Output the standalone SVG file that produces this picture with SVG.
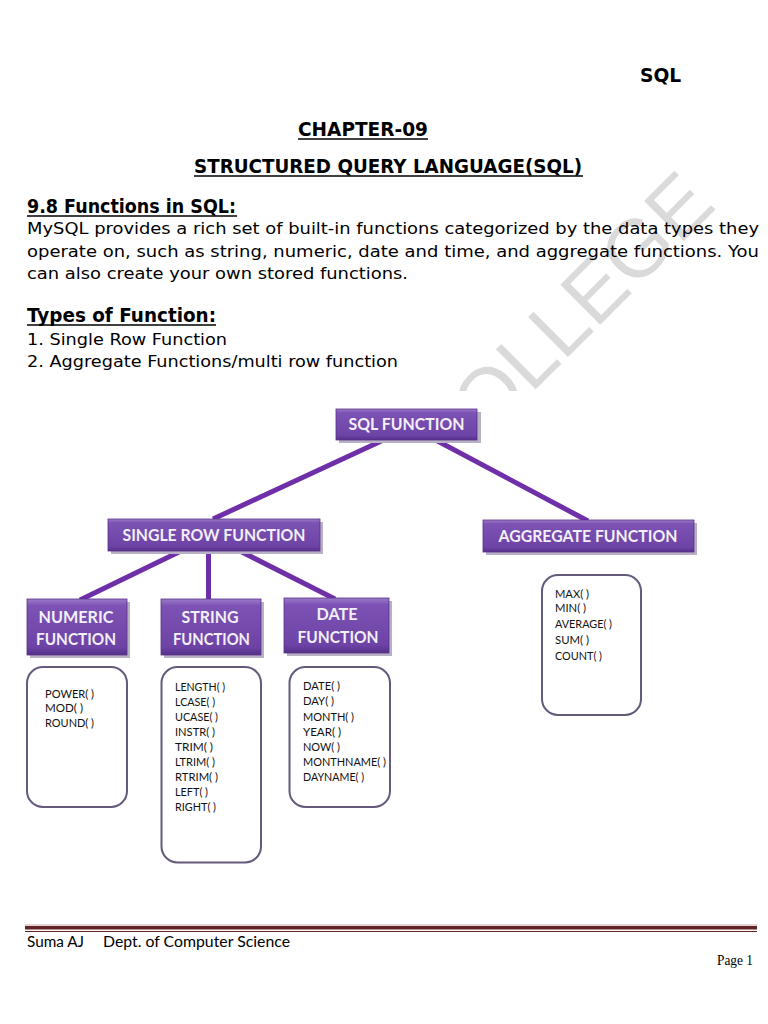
<svg xmlns="http://www.w3.org/2000/svg" width="768" height="1024" viewBox="0 0 768 1024">
<style>
.h{font-family:"DejaVu Sans",Verdana,sans-serif;font-weight:bold;font-size:18.67px;fill:#000}
.b{font-family:"DejaVu Sans",Verdana,sans-serif;font-size:16px;fill:#000}
.ul{stroke:#000;stroke-width:1.5}
.bx{fill:url(#pg);stroke:#5a3088;stroke-width:0.8}
.sh{fill:#b8b0c4}
.lbl{font-family:Lato,"Open Sans",sans-serif;font-weight:bold;font-size:17px;fill:#f2eff7;text-anchor:middle}
.it{fill:#fff;stroke:#655a7c;stroke-width:2}
.t{font-family:Lato,"Open Sans",sans-serif;font-size:11.8px;fill:#111}
.cn{stroke:#6e2fa8;stroke-width:5;stroke-linecap:butt;fill:none}
.ft{font-family:Lato,"Open Sans",sans-serif;font-size:14.5px;fill:#000}
</style>
<defs>
<linearGradient id="pg" x1="0" y1="0" x2="0" y2="1">
<stop offset="0" stop-color="#9a7cc8"/>
<stop offset="0.12" stop-color="#7c52b4"/>
<stop offset="0.85" stop-color="#6e43a6"/>
<stop offset="1" stop-color="#55308a"/>
</linearGradient>
<clipPath id="wm"><rect x="0" y="0" width="768" height="391"/></clipPath>
</defs>
<rect width="768" height="1024" fill="#fff"/>
<g id="watermark" clip-path="url(#wm)">
<text x="0" y="0" transform="translate(486,439) rotate(-45)" font-family="Liberation Sans,Arial,sans-serif" font-size="82" fill="#dadada">OLLEGE</text>
</g>
<g id="header">
<text class="h" x="640" y="82">SQL</text>
<text class="h" x="298" y="136" textLength="130" lengthAdjust="spacingAndGlyphs">CHAPTER-09</text>
<line class="ul" x1="298" y1="139" x2="428" y2="139"/>
<text class="h" x="194" y="173" textLength="388" lengthAdjust="spacingAndGlyphs">STRUCTURED QUERY LANGUAGE(SQL)</text>
<line class="ul" x1="194" y1="176" x2="583" y2="176"/>
<text class="h" x="27" y="213" textLength="209" lengthAdjust="spacingAndGlyphs">9.8 Functions in SQL:</text>
<line class="ul" x1="27" y1="216" x2="237" y2="216"/>
<text class="b" x="27" y="234" textLength="732" lengthAdjust="spacingAndGlyphs">MySQL provides a rich set of built-in functions categorized by the data types they</text>
<text class="b" x="27" y="257" textLength="732" lengthAdjust="spacingAndGlyphs">operate on, such as string, numeric, date and time, and aggregate functions. You</text>
<text class="b" x="27" y="279" textLength="381" lengthAdjust="spacingAndGlyphs">can also create your own stored functions.</text>
<text class="h" x="27" y="322" textLength="189" lengthAdjust="spacingAndGlyphs">Types of Function:</text>
<line class="ul" x1="27" y1="325" x2="216" y2="325"/>
<text class="b" x="27" y="345" textLength="200" lengthAdjust="spacingAndGlyphs">1. Single Row Function</text>
<text class="b" x="27" y="367" textLength="371" lengthAdjust="spacingAndGlyphs">2. Aggregate Functions/multi row function</text>
</g>
<g id="connectors">
<line class="cn" x1="390" y1="437" x2="213" y2="519"/>
<line class="cn" x1="430" y1="437" x2="588" y2="521"/>
<line class="cn" x1="183" y1="550" x2="80" y2="600"/>
<line class="cn" x1="208.5" y1="550" x2="208.5" y2="600"/>
<line class="cn" x1="238" y1="550" x2="335" y2="599"/>
</g>
<g id="sql-function">
<rect class="sh" x="339" y="412" width="142" height="31"/>
<rect class="bx" x="336" y="409" width="141" height="31"/>
<text class="lbl" x="406.5" y="430" textLength="116" lengthAdjust="spacingAndGlyphs">SQL FUNCTION</text>
</g>
<g id="single-row-function">
<rect class="sh" x="111" y="522" width="212" height="32"/>
<rect class="bx" x="108" y="519" width="212" height="32"/>
<text class="lbl" x="214" y="541" textLength="183" lengthAdjust="spacingAndGlyphs">SINGLE ROW FUNCTION</text>
</g>
<g id="aggregate-function">
<rect class="sh" x="486" y="523" width="211" height="32"/>
<rect class="bx" x="483" y="520" width="211" height="32"/>
<text class="lbl" x="588" y="542" textLength="179" lengthAdjust="spacingAndGlyphs">AGGREGATE FUNCTION</text>
</g>
<g id="numeric-function">
<rect class="sh" x="30" y="602" width="100" height="56"/>
<rect class="bx" x="27" y="599" width="100" height="56"/>
<text class="lbl" x="76" y="623" textLength="75" lengthAdjust="spacingAndGlyphs">NUMERIC</text>
<text class="lbl" x="76" y="645" textLength="80" lengthAdjust="spacingAndGlyphs">FUNCTION</text>
</g>
<g id="string-function">
<rect class="sh" x="164" y="602" width="100" height="56"/>
<rect class="bx" x="161" y="599" width="100" height="56"/>
<text class="lbl" x="210" y="623" textLength="57" lengthAdjust="spacingAndGlyphs">STRING</text>
<text class="lbl" x="211.5" y="645" textLength="77" lengthAdjust="spacingAndGlyphs">FUNCTION</text>
</g>
<g id="date-function">
<rect class="sh" x="287" y="601" width="105" height="55"/>
<rect class="bx" x="284" y="598" width="105" height="55"/>
<text class="lbl" x="337" y="620" textLength="41" lengthAdjust="spacingAndGlyphs">DATE</text>
<text class="lbl" x="338" y="643" textLength="81" lengthAdjust="spacingAndGlyphs">FUNCTION</text>
</g>
<g id="numeric-items">
<rect class="it" x="27" y="667" width="100" height="140" rx="16"/>
<text class="t" x="45" y="697.5" textLength="49" lengthAdjust="spacingAndGlyphs">POWER( )</text>
<text class="t" x="45" y="712" textLength="38" lengthAdjust="spacingAndGlyphs">MOD( )</text>
<text class="t" x="45" y="726.5" textLength="49" lengthAdjust="spacingAndGlyphs">ROUND( )</text>
</g>
<g id="string-items">
<rect class="it" x="161.5" y="667" width="99.5" height="195.5" rx="16"/>
<text class="t" x="175" y="690.5" textLength="50" lengthAdjust="spacingAndGlyphs">LENGTH( )</text>
<text class="t" x="175" y="705.5" textLength="40" lengthAdjust="spacingAndGlyphs">LCASE( )</text>
<text class="t" x="175" y="720.5" textLength="43" lengthAdjust="spacingAndGlyphs">UCASE( )</text>
<text class="t" x="175" y="735.5" textLength="40" lengthAdjust="spacingAndGlyphs">INSTR( )</text>
<text class="t" x="175" y="750.5" textLength="38" lengthAdjust="spacingAndGlyphs">TRIM( )</text>
<text class="t" x="175" y="765.5" textLength="40" lengthAdjust="spacingAndGlyphs">LTRIM( )</text>
<text class="t" x="175" y="780.5" textLength="43" lengthAdjust="spacingAndGlyphs">RTRIM( )</text>
<text class="t" x="175" y="796" textLength="33" lengthAdjust="spacingAndGlyphs">LEFT( )</text>
<text class="t" x="175" y="811" textLength="41" lengthAdjust="spacingAndGlyphs">RIGHT( )</text>
</g>
<g id="date-items">
<rect class="it" x="289.5" y="667" width="100.5" height="140" rx="16"/>
<text class="t" x="303" y="690" textLength="37" lengthAdjust="spacingAndGlyphs">DATE( )</text>
<text class="t" x="303" y="705" textLength="31" lengthAdjust="spacingAndGlyphs">DAY( )</text>
<text class="t" x="303" y="720.5" textLength="51" lengthAdjust="spacingAndGlyphs">MONTH( )</text>
<text class="t" x="303" y="735.5" textLength="38" lengthAdjust="spacingAndGlyphs">YEAR( )</text>
<text class="t" x="303" y="750.5" textLength="37" lengthAdjust="spacingAndGlyphs">NOW( )</text>
<text class="t" x="303" y="766" textLength="83" lengthAdjust="spacingAndGlyphs">MONTHNAME( )</text>
<text class="t" x="303" y="781" textLength="61" lengthAdjust="spacingAndGlyphs">DAYNAME( )</text>
</g>
<g id="aggregate-items">
<rect class="it" x="542" y="575" width="99" height="140" rx="16"/>
<text class="t" x="555" y="597.5" textLength="34" lengthAdjust="spacingAndGlyphs">MAX( )</text>
<text class="t" x="555" y="612" textLength="31" lengthAdjust="spacingAndGlyphs">MIN( )</text>
<text class="t" x="555" y="628" textLength="57" lengthAdjust="spacingAndGlyphs">AVERAGE( )</text>
<text class="t" x="555" y="643.5" textLength="34" lengthAdjust="spacingAndGlyphs">SUM( )</text>
<text class="t" x="555" y="660" textLength="47" lengthAdjust="spacingAndGlyphs">COUNT( )</text>
</g>
<g id="footer">
<rect x="25" y="924.5" width="732" height="1" fill="#c9a9a9"/>
<rect x="25" y="926" width="732" height="3.5" fill="#622423"/>
<rect x="25" y="931" width="732" height="1" fill="#622423"/>
<text class="ft" x="27" y="947" textLength="57" lengthAdjust="spacingAndGlyphs">Suma AJ</text>
<text class="ft" x="103" y="947" textLength="187" lengthAdjust="spacingAndGlyphs">Dept. of Computer Science</text>
<text x="717" y="965" font-family="Liberation Serif,Times New Roman,serif" font-size="14" textLength="36" lengthAdjust="spacingAndGlyphs">Page 1</text>
</g>
</svg>
